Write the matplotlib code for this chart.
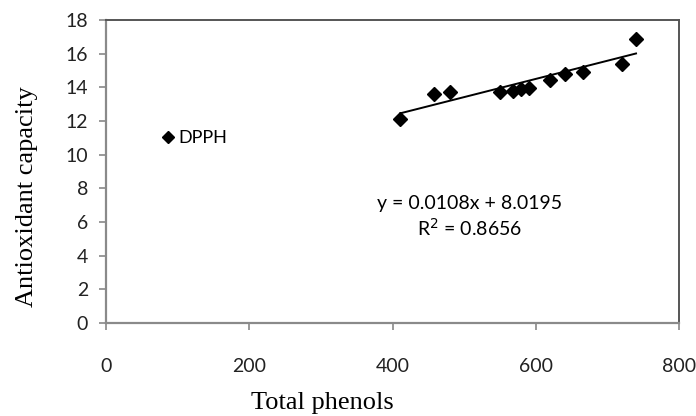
import numpy as np
import matplotlib
matplotlib.use("Agg")
import matplotlib.pyplot as plt

# values
phenols = [411, 458, 480, 550, 568, 580, 590, 620, 641, 666, 720, 740]
capacity = [12.1, 13.6, 13.75, 13.75, 13.8, 13.9, 13.95, 14.45, 14.8, 14.9, 15.4, 16.85]
slope = 0.0108
intercept = 8.0195
r2 = 0.8656
xticks = [0, 200, 400, 600, 800]
yticks = [0, 2, 4, 6, 8, 10, 12, 14, 16, 18]

fig = plt.figure(figsize=(6.96, 4.16), dpi=100)
ax = fig.add_axes([106 / 696, 1 - 323 / 416, 573 / 696, 303 / 416])

ax.plot(phenols, capacity, linestyle="none", marker="D", markersize=7.5,
        color="black", label="DPPH")

xfit = np.array([min(phenols), max(phenols)])
ax.plot(xfit, slope * xfit + intercept, color="black", linewidth=1.4)

ax.set_xlim(0, 800)
ax.set_ylim(0, 18)
ax.set_xticks(xticks)
ax.set_yticks(yticks)

tick_font = "Lato"
ax.tick_params(axis="both", direction="out", length=5, width=1.2, color="#888888",
               labelsize=14)
ax.tick_params(axis="x", pad=20)
ax.tick_params(axis="y", pad=8)
for lab in ax.get_xticklabels() + ax.get_yticklabels():
    lab.set_family(tick_font)
    lab.set_color("#222222")

for side in ["left", "bottom"]:
    ax.spines[side].set_color("#8a8a8a")
    ax.spines[side].set_linewidth(1.6)
for side in ["top", "right"]:
    ax.spines[side].set_color("#555555")
    ax.spines[side].set_linewidth(1.4)

leg = ax.legend(loc="center left", bbox_to_anchor=(0.07, 0.61), frameon=False,
                handlelength=0.6, handletextpad=0.3, markerscale=0.8,
                prop={"family": tick_font, "size": 13})

ax.text(508, 6.3, "y = 0.0108x + 8.0195\nR$^2$ = 0.8656", ha="center", va="center",
        family=tick_font, fontsize=14, linespacing=1.3)

fig.text(27 / 696, 1 - 197 / 416, "Antioxidant capacity", rotation=90,
         ha="center", va="center", family="Liberation Serif", fontsize=19)
fig.text(322 / 696, 1 - 403 / 416, "Total phenols", ha="center", va="center",
         family="Liberation Serif", fontsize=19)

fig.savefig("out.png", dpi=100, facecolor="white")
